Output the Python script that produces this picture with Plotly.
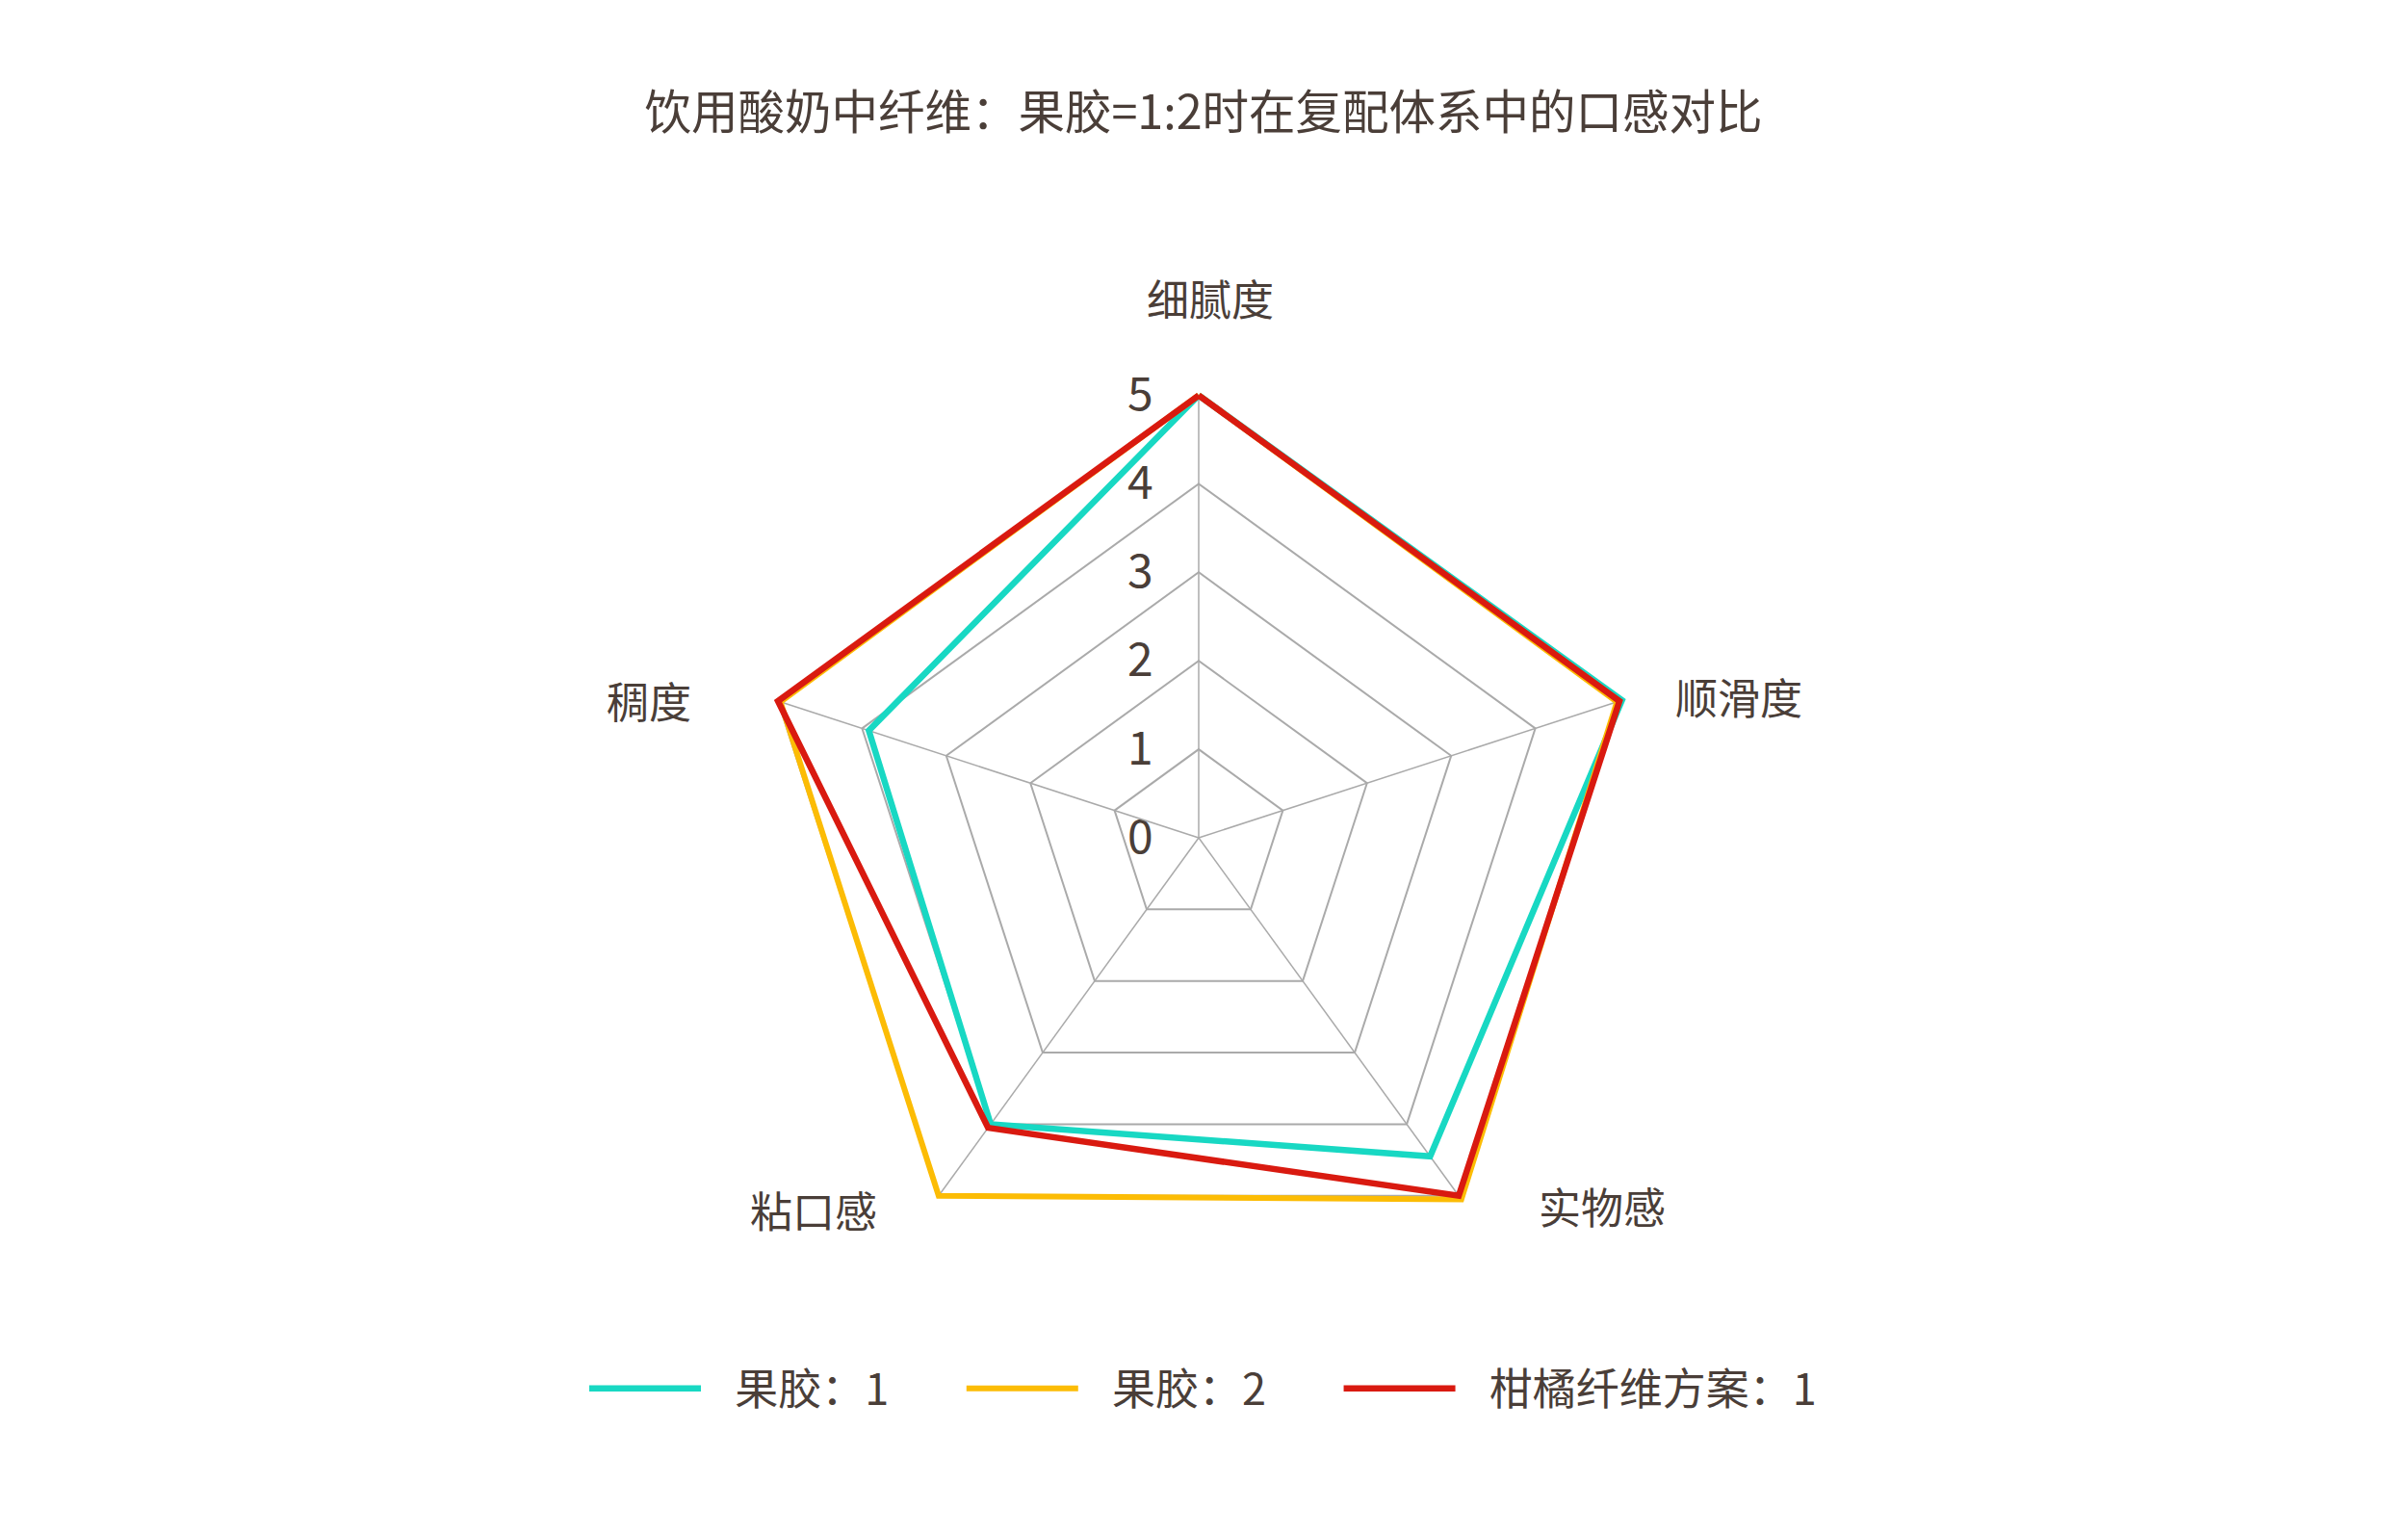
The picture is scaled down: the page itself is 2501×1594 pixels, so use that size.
import math
import plotly.graph_objects as go

# ---- data ----
categories = ["细腻度", "顺滑度", "实物感", "粘口感", "稠度"]
series_names = ["果胶：1", "果胶：2", "柑橘纤维方案：1"]
pectin_1 = [5.0, 5.03, 4.45, 4.0, 3.92]
pectin_2 = [5.0, 4.97, 5.05, 5.0, 4.97]
citrus_fiber_1 = [5.0, 5.0, 5.0, 4.05, 5.0]
radial_ticks = [0, 1, 2, 3, 4, 5]
radial_max = 5

# ---- style / layout ----
colors = ["#18d8c3", "#fcbc05", "#d91a10"]
widths = [6.5, 6, 6.5]
grid_color = "#aaaaaa"
text_color = "#4a3e38"
font_family = "Noto Sans CJK SC, Noto Sans, sans-serif"

W, H = 2501, 1594
OFF = 8  # page body margin offset
range_pad = 1.03  # extra room so lines at the max value are not clipped
cx, cy, R5 = 1245 - OFF, 870 - OFF, 459.5
R = R5 * range_pad
# category label placement: (radius px, screen angle deg) relative to the polar centre
label_polar = [(561, 88.8), (580, 14.7), (567, -42.4), (556, -136.0), (589, 165.9)]
NB = "\u00a0"

fig = go.Figure()
# spokes (axis lines) from centre to max for each category
for cat in categories:
    fig.add_trace(go.Scatterpolar(
        r=[0, radial_max], theta=[cat, cat], mode="lines",
        line=dict(color=grid_color, width=1.5),
        showlegend=False, hoverinfo="skip",
    ))

for i, (name, vals, col, w) in enumerate(zip(series_names, [pectin_1, pectin_2, citrus_fiber_1], colors, widths)):
    trail = NB * 7 if i < len(series_names) - 1 else ""
    fig.add_trace(go.Scatterpolar(
        r=vals + vals[:1],
        theta=categories + categories[:1],
        mode="lines",
        name=NB * 3 + name + trail,
        line=dict(color=col, width=w),
        cliponaxis=False,
        hoverinfo="skip",
    ))

annotations = []
for cat, (lr, la) in zip(categories, label_polar):
    px = cx + lr * math.cos(math.radians(la))
    py = cy - lr * math.sin(math.radians(la))
    annotations.append(dict(
        text=cat, x=px / W, y=1 - py / H, xref="paper", yref="paper",
        xanchor="center", yanchor="middle", showarrow=False,
        font=dict(size=44, color=text_color, family=font_family),
    ))

fig.update_layout(
    width=W, height=H,
    margin=dict(l=0, r=0, t=0, b=0),
    paper_bgcolor="white",
    plot_bgcolor="white",
    font=dict(family=font_family, color=text_color, size=44),
    title=dict(
        text="饮用酸奶中纤维：果胶=1:2时在复配体系中的口感对比",
        x=(1250 - OFF) / W, xanchor="center", xref="paper",
        y=1 - (117 - OFF) / H, yanchor="middle", yref="paper",
        font=dict(size=48.5, color=text_color, family=font_family),
    ),
    polar=dict(
        domain=dict(x=[(cx - R) / W, (cx + R) / W], y=[(H - cy - R) / H, (H - cy + R) / H]),
        gridshape="linear",
        bgcolor="rgba(0,0,0,0)",
        angularaxis=dict(
            direction="clockwise",
            rotation=90,
            layer="below traces",
            showline=False,
            showgrid=False,
            showticklabels=False,
            ticks="",
        ),
        radialaxis=dict(
            range=[0, radial_max * range_pad],
            tickvals=radial_ticks,
            ticktext=[str(t) for t in radial_ticks],
            angle=90,
            tickangle=90,
            side="counterclockwise",
            layer="below traces",
            showline=False,
            gridcolor=grid_color,
            gridwidth=1.5,
            ticks="outside",
            ticklen=30,
            tickcolor="rgba(0,0,0,0)",
            tickfont=dict(size=48, color=text_color, family=font_family),
        ),
    ),
    annotations=annotations,
    showlegend=True,
    legend=dict(
        orientation="h",
        x=(617 - OFF - 10) / W, xanchor="left",
        y=1 - (1442 - OFF) / H, yanchor="middle",
        font=dict(size=45, color=text_color, family=font_family),
        itemwidth=116,
        bgcolor="rgba(0,0,0,0)",
    ),
)

fig.write_html("out.html")
